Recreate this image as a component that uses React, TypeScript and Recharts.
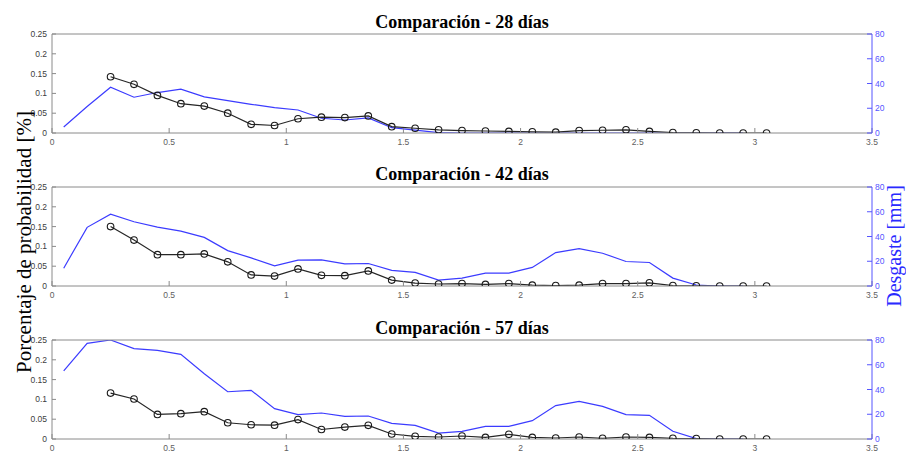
import React from 'react';
import { LineChart, Line, XAxis, YAxis } from 'recharts';

const binCenters = [0.05, 0.15, 0.25, 0.35, 0.45, 0.55, 0.65, 0.75, 0.85, 0.95, 1.05, 1.15, 1.25, 1.35, 1.45, 1.55, 1.65, 1.75, 1.85, 1.95, 2.05, 2.15, 2.25, 2.35, 2.45, 2.55, 2.65, 2.75, 2.85, 2.95, 3.05];

const xTicks = [0, 0.5, 1, 1.5, 2, 2.5, 3, 3.5];
const probTicks = [0, 0.05, 0.1, 0.15, 0.2, 0.25];
const wearTicks = [0, 20, 40, 60, 80];

const prob28 = [null, null, 0.142, 0.123, 0.095, 0.074, 0.068, 0.05, 0.022, 0.019, 0.036, 0.04, 0.039, 0.043, 0.016, 0.012, 0.008, 0.006, 0.005, 0.004, 0.003, 0.002, 0.006, 0.007, 0.008, 0.004, 0.001, 0.0005, 0, 0, 0];
const wear28 = [4.9, 21.4, 37, 28.9, 32.7, 35.4, 29.2, 26.2, 23.2, 20.5, 18.6, 11.9, 10.5, 12.2, 4.3, 2.4, 0.3, 0, 0, 0, 0, 0, 0, 0, 0, 0, 0, 0, 0, 0, null];

const prob42 = [null, null, 0.15, 0.116, 0.079, 0.079, 0.081, 0.061, 0.028, 0.025, 0.043, 0.027, 0.026, 0.038, 0.015, 0.0075, 0.005, 0.006, 0.004, 0.006, 0.002, 0.001, 0.002, 0.006, 0.006, 0.008, 0.001, 0.0005, 0, 0, 0];
const wear42 = [14.4, 47.4, 58, 51.9, 47.6, 44.4, 39.3, 28.6, 22.7, 16.3, 20.9, 21.1, 17.9, 18.2, 12.6, 11, 4.8, 6.4, 10.4, 10.4, 15, 27, 30.2, 26.5, 19.8, 19, 6.4, 0.8, 0, 0, null];

const prob57 = [null, null, 0.116, 0.101, 0.062, 0.064, 0.069, 0.041, 0.036, 0.035, 0.049, 0.024, 0.03, 0.0345, 0.0126, 0.0067, 0.005, 0.0076, 0.004, 0.0118, 0.004, 0.0025, 0.005, 0.0017, 0.005, 0.004, 0.0017, 0.001, 0, 0, 0];
const wear57 = [55, 77.3, 80, 73, 71.6, 68.4, 52.8, 38.2, 39.3, 24.5, 19.7, 21, 18.3, 18.6, 12.7, 11, 4.8, 6.2, 10.2, 10.2, 14.8, 27, 30.4, 26.4, 19.7, 19.1, 6.2, 0.3, 0, 0, null];

const titles = ['Comparación - 28 días', 'Comparación - 42 días', 'Comparación - 57 días'];
const leftLabel = 'Porcentaje de probabilidad [%]';
const rightLabel = 'Desgaste [mm]';

const panels = [
  { title: titles[0], prob: prob28, wear: wear28, top: 0, titleY: 28 },
  { title: titles[1], prob: prob42, wear: wear42, top: 153, titleY: 180 },
  { title: titles[2], prob: prob57, wear: wear57, top: 306, titleY: 334 },
];

const BLUE = '#3b3bff';
const BLUE_AXIS = '#5555ff';
const GRAY = '#8a8a8a';

function Panel({ prob, wear }: { prob: (number | null)[]; wear: (number | null)[] }) {
  const data = binCenters.map((x, i) => ({ x, prob: prob[i], wear: wear[i] }));
  return (
    <LineChart width={906} height={151} data={data} margin={{ top: 33, right: 4, bottom: 0, left: 8 }}>
      <XAxis
        xAxisId="top"
        orientation="top"
        dataKey="x"
        type="number"
        domain={[0, 3.5]}
        ticks={xTicks}
        interval={0}
        height={1}
        tick={false}
        tickSize={-5}
        stroke={GRAY}
      />
      <XAxis
        xAxisId="bottom"
        dataKey="x"
        type="number"
        domain={[0, 3.5]}
        ticks={xTicks}
        interval={0}
        height={18}
        tickSize={-5}
        tickMargin={11}
        stroke={GRAY}
        tick={{ fill: '#606060', fontSize: 8.5, fontFamily: 'Liberation Sans' }}
      />
      <YAxis
        yAxisId="left"
        domain={[0, 0.25]}
        ticks={probTicks}
        interval={0}
        width={44}
        tickSize={-4}
        tickMargin={9}
        stroke={GRAY}
        allowDataOverflow
        tick={{ fill: '#404040', fontSize: 8.5, fontFamily: 'Liberation Sans' }}
      />
      <YAxis
        yAxisId="right"
        orientation="right"
        domain={[0, 80]}
        ticks={wearTicks}
        interval={0}
        width={30}
        tickSize={-5}
        tickMargin={8}
        stroke={BLUE_AXIS}
        allowDataOverflow
        tick={{ fill: BLUE_AXIS, fontSize: 8.5, fontFamily: 'Liberation Sans' }}
      />
      <Line
        xAxisId="bottom"
        yAxisId="right"
        dataKey="wear"
        stroke={BLUE}
        strokeWidth={1.2}
        dot={false}
        isAnimationActive={false}
        type="linear"
      />
      <Line
        xAxisId="bottom"
        yAxisId="left"
        dataKey="prob"
        stroke="#262626"
        strokeWidth={1.2}
        dot={{ r: 3.3, stroke: '#1a1a1a', strokeWidth: 1.1, fill: 'none' }}
        isAnimationActive={false}
        type="linear"
      />
    </LineChart>
  );
}

export default function App() {
  return (
    <div style={{ position: 'absolute', left: 0, top: 0, width: 906, height: 453, overflow: 'hidden', background: '#fff' }}>
      {panels.map((p, i) => (
        <div key={i} style={{ position: 'absolute', left: 0, top: p.top, width: 906, height: 151 }}>
          <Panel prob={p.prob} wear={p.wear} />
        </div>
      ))}
      <svg width={906} height={453} style={{ position: 'absolute', left: 0, top: 0, pointerEvents: 'none' }}>
        {panels.map((p, i) => (
          <text key={i} x={462} y={p.titleY} textAnchor="middle" fontFamily="Liberation Serif" fontWeight="bold" fontSize={18} fill="#000">
            {p.title}
          </text>
        ))}
        <text transform="translate(31,242) rotate(-90)" textAnchor="middle" fontFamily="Liberation Serif" fontSize={21} fill="#000">
          {leftLabel}
        </text>
        <text transform="translate(901,246) rotate(-90)" textAnchor="middle" fontFamily="Liberation Serif" fontSize={20} fill="#2a2aff">
          {rightLabel}
        </text>
      </svg>
    </div>
  );
}
